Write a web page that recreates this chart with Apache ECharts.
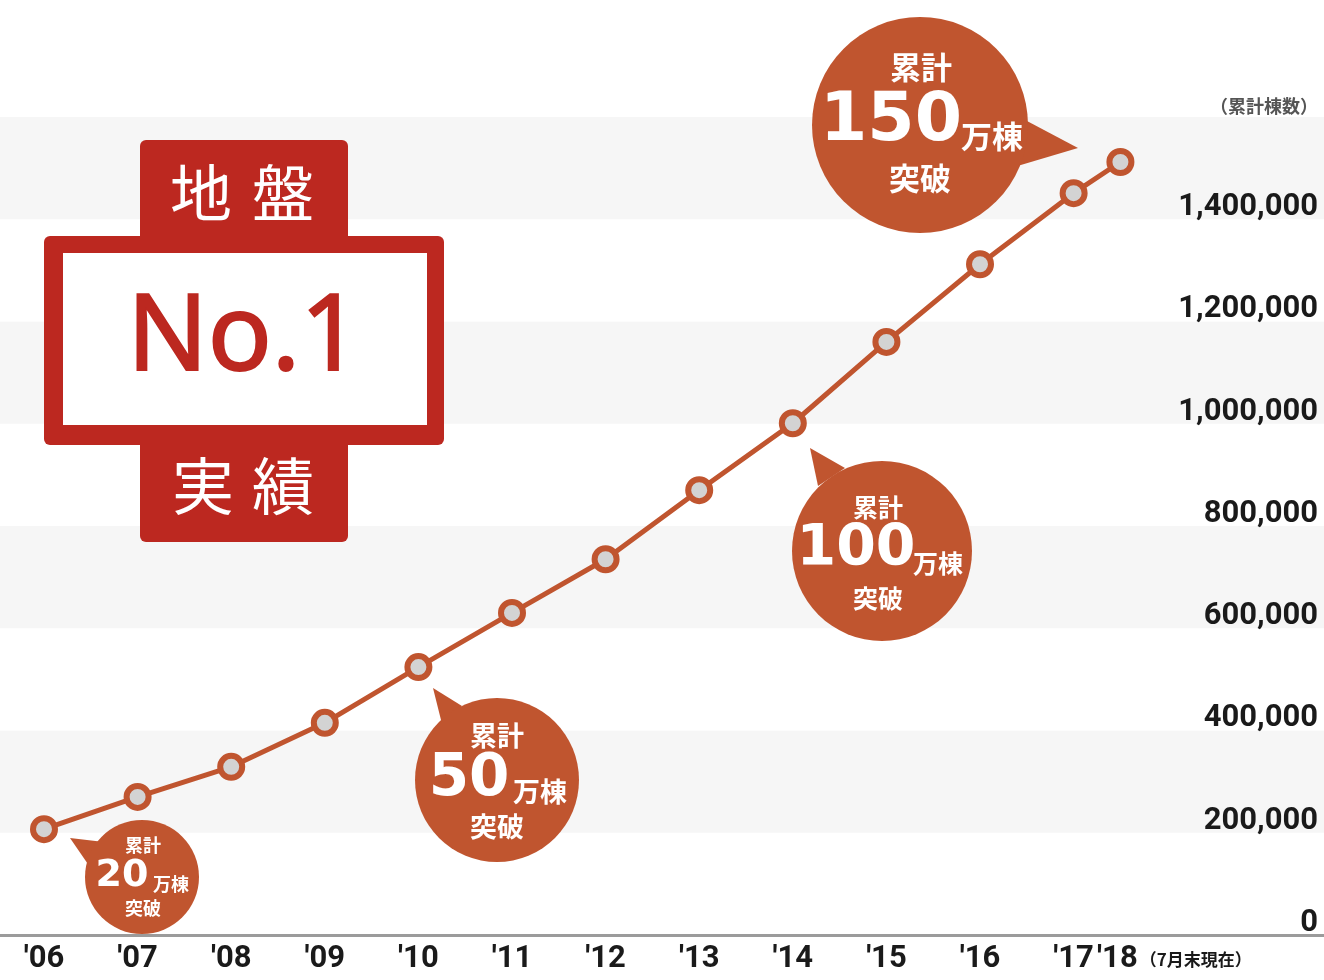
<!DOCTYPE html>
<html lang="ja">
<head>
    <meta charset="UTF-8">
    <title>地盤 No.1 実績 累計棟数</title>
    <style>
        html, body { margin: 0; padding: 0; background: #fff; }
        #main { width: 1324px; height: 980px; }
    </style>
    <script src="https://cdn.jsdelivr.net/npm/echarts@6.0.0/dist/echarts.min.js"></script>
</head>
<body>
<div id="main"></div>
<script>
    // 年ラベルと横軸上の位置（'18 は 7月末時点なので半年分）
    var years = ["'06", "'07", "'08", "'09", "'10", "'11", "'12", "'13", "'14", "'15", "'16", "'17", "'18"];
    var yearPos = [0, 1, 2, 3, 4, 5, 6, 7, 8, 9, 10, 11, 11.5];
    // 累計棟数
    var totals = [207000, 270000, 329000, 415000, 524000, 630000, 735000, 870000, 1001000, 1160000, 1312000, 1451000, 1512000];
    var yTicks = [0, 200000, 400000, 600000, 800000, 1000000, 1200000, 1400000, 1600000];

    var orange = '#c0552f';
    var red = '#bc2820';
    var jp = '"Noto Sans CJK JP", sans-serif';
    var num = '"DejaVu Sans", sans-serif';
    var Z = 50;
    var last = yearPos.length - 1;

    function bubble(cx, cy, r, tail, t) {
        var els = [
            {type: 'polygon', z: Z, shape: {points: tail}, style: {fill: orange}},
            {type: 'circle', z: Z, shape: {cx: cx, cy: cy, r: r}, style: {fill: orange}}
        ];
        t.forEach(function (s) {
            els.push({
                type: 'text', z: Z + 1, x: s[1], y: s[2],
                style: {
                    text: s[0], fill: '#fff', fontSize: s[3], fontWeight: 'bold',
                    fontFamily: s[4] ? num : jp, align: 'center', verticalAlign: 'middle'
                }
            });
        });
        return {type: 'group', z: Z, children: els};
    }

    function tabText(txt, x, y, color, size, family) {
        return {
            type: 'text', z: Z + 1, x: x, y: y,
            style: {text: txt, fill: color, fontSize: size, fontFamily: family, align: 'center', verticalAlign: 'middle'}
        };
    }

    var badge = {
        type: 'group',
        z: Z,
        children: [
            {type: 'rect', z: Z, shape: {x: 140, y: 140, width: 208, height: 110, r: 6}, style: {fill: red}},
            {type: 'rect', z: Z, shape: {x: 140, y: 430, width: 208, height: 112, r: 6}, style: {fill: red}},
            {type: 'rect', z: Z, shape: {x: 44, y: 236, width: 400, height: 209, r: 6}, style: {fill: red}},
            {type: 'rect', z: Z, shape: {x: 63, y: 253, width: 364, height: 172}, style: {fill: '#fff'}},
            tabText('地', 201, 193, '#fff', 62, jp),
            tabText('盤', 283, 193, '#fff', 62, jp),
            tabText('実', 203, 486, '#fff', 62, jp),
            tabText('績', 283, 486, '#fff', 62, jp),
            {
                type: 'text', z: Z + 1, x: 244, y: 340,
                style: {
                    text: 'No.1', fill: red, fontSize: 106, fontFamily: '"Noto Sans", sans-serif',
                    fontWeight: 'normal', align: 'center', verticalAlign: 'middle',
                    stroke: red, lineWidth: 2
                }
            }
        ]
    };

    var baseLabel = {
        showMinLabel: true,
        showMaxLabel: true,
        hideOverlap: false,
        margin: 9,
        fontSize: 31,
        fontWeight: 'bold',
        fontFamily: 'Roboto, sans-serif',
        color: '#1a1a1a'
    };

    function yearLabel(v) {
        for (var i = 0; i < yearPos.length; i++) {
            if (Math.abs(yearPos[i] - v) < 0.01) {
                if (i === last) {
                    return '{p| }' + years[i] + '{s|（7月末現在）}';
                }
                return years[i];
            }
        }
        return '';
    }

    var xCommon = {
        type: 'value',
        min: -0.47,
        max: 13.675,
        position: 'bottom',
        splitLine: {show: false},
        axisTick: {show: false}
    };

    var myChart = echarts.init(document.getElementById('main'));

    var option = {
        animation: false,
        grid: {left: 0, right: 0, top: 117, bottom: 45},
        xAxis: [
            Object.assign({}, xCommon, {
                axisLine: {show: true, lineStyle: {color: '#9b9b9b', width: 3}},
                axisLabel: Object.assign({}, baseLabel, {
                    customValues: yearPos.slice(0, last),
                    formatter: yearLabel
                })
            }),
            // '18（7月末現在）だけを別軸で描く
            Object.assign({}, xCommon, {
                axisLine: {show: false},
                axisLabel: Object.assign({}, baseLabel, {
                    customValues: [yearPos[last]],
                    formatter: yearLabel,
                    rich: {
                        p: {width: 108, fontSize: 31},
                        s: {fontSize: 17, fontWeight: 'bold', fontFamily: jp, color: '#1a1a1a', padding: [0, 0, 0, 2]}
                    }
                })
            })
        ],
        yAxis: {
            type: 'value',
            position: 'right',
            min: 0,
            max: 1600000,
            interval: 200000,
            axisLine: {show: false},
            axisTick: {show: false},
            splitLine: {show: false},
            splitArea: {show: true, areaStyle: {color: ['#ffffff', '#f6f6f6']}},
            axisLabel: {
                inside: true,
                margin: 6,
                fontSize: 31,
                fontWeight: 'bold',
                fontFamily: 'Roboto, sans-serif',
                color: '#1a1a1a',
                verticalAlign: 'bottom',
                lineHeight: 24,
                formatter: function (v) {
                    if (v === yTicks[yTicks.length - 1]) {
                        return '{u|（累計棟数）}';
                    }
                    return v.toLocaleString('en-US');
                },
                rich: {
                    u: {fontSize: 18, fontWeight: 'bold', fontFamily: jp, color: '#555', lineHeight: 22}
                }
            }
        },
        series: [{
            type: 'line',
            xAxisIndex: 0,
            data: yearPos.map(function (x, i) { return [x, totals[i]]; }),
            symbol: 'circle',
            symbolSize: 22,
            lineStyle: {color: orange, width: 5},
            itemStyle: {color: '#d3d3d3', borderColor: orange, borderWidth: 6},
            z: 3
        }],
        graphic: [
            badge,
            bubble(142, 877, 57, [[70, 838], [104, 842], [92, 870]], [
                ['累計', 143, 845, 18],
                ['20', 122, 876, 38, true],
                ['万棟', 171, 884, 18],
                ['突破', 143, 908, 18]
            ]),
            bubble(497, 780, 82, [[433, 688], [442, 724], [462, 706]], [
                ['累計', 497, 736, 27],
                ['50', 469, 780, 58, true],
                ['万棟', 540, 792, 27],
                ['突破', 497, 827, 27]
            ]),
            bubble(882, 551, 90, [[810, 448], [818, 486], [845, 468]], [
                ['累計', 878, 507, 25],
                ['100', 856, 550, 57, true],
                ['万棟', 938, 563, 25],
                ['突破', 878, 598, 25]
            ]),
            bubble(920, 125, 108, [[1078, 148], [1010, 112], [1004, 170]], [
                ['累計', 921, 67, 31],
                ['150', 891, 122, 68, true],
                ['万棟', 992, 136, 31],
                ['突破', 920, 178, 31]
            ])
        ]
    };

    myChart.setOption(option);
</script>
</body>
</html>
